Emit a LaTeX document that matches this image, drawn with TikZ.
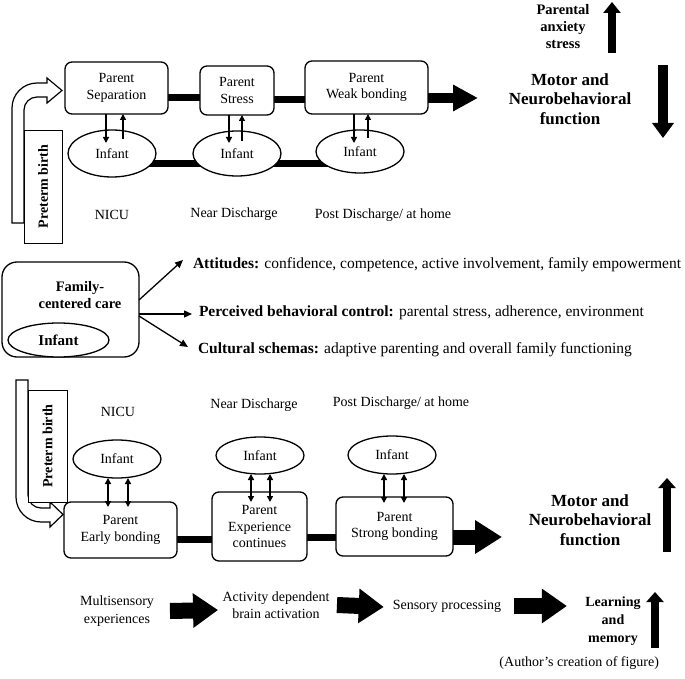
\documentclass[tikz,border=0pt]{standalone}
\usepackage{fontspec}
\setmainfont{Liberation Serif}
\usetikzlibrary{arrows.meta,shapes.geometric}
\pgfdeclarelayer{bg}
\pgfsetlayers{bg,main}
\begin{document}
\begin{tikzpicture}[x=1pt,y=-1pt,
 every node/.style={inner sep=0pt,outer sep=0pt},
 f14/.style={font=\fontsize{14}{16.5}\selectfont},
 pbox/.style={draw,line width=1.3pt,rounded corners=7pt,fill=white,align=center,f14},
 inf/.style={draw,ellipse,line width=1.3pt,fill=white,minimum width=88pt,f14},
 lbl/.style={f14,align=center},
 link/.style={line width=7pt},
 pi/.style={line width=1.2pt,-{Triangle[length=6pt,width=6pt]}},
 pib/.style={line width=1.4pt,{Triangle[length=6pt,width=6pt]}-{Triangle[length=6pt,width=6pt]}},
 sarr/.style={line width=1.3pt,-{Triangle[length=8pt,width=7pt]}},
 pbirth/.style={draw,line width=0.8pt,fill=white,rotate=90,font=\bfseries\fontsize{14}{16}\selectfont},
 hollow/.style={draw,line width=1.2pt,fill=white},
 motor/.style={font=\bfseries\fontsize{17}{19.5}\selectfont,align=center},
 bl/.style={font=\bfseries\fontsize{14.5}{17}\selectfont,align=center},
 midtxt/.style={anchor=west,font=\fontsize{15.5}{18}\selectfont},
 fatb/.style={line width=16pt,-{Triangle[length=25pt,width=33pt]}},
 vup/.style={line width=8pt,-{Triangle[length=10pt,width=17pt]}},
]
\useasboundingbox (0,0) rectangle (685,679);

% ---------- top section ----------
\draw[hollow] (24,223) -- (12,223) -- (12,108) .. controls (12,94.2) and (23.2,83) .. (37,83) -- (47,83) -- (47,78) -- (62,90.5) -- (47,103) -- (47,97) -- (37,97) .. controls (29.8,97) and (24,102.8) .. (24,110) -- cycle;
\node[pbirth,minimum width=113pt,minimum height=38pt] (pb1) at (43,186.5) {Preterm birth};

\node[pbox,minimum width=103pt,minimum height=52pt] (sep) at (116.5,88) {Parent\\Separation};
\node[pbox,minimum width=74pt,minimum height=49pt] (str) at (237,90.5) {Parent\\Stress};
\node[pbox,minimum width=123pt,minimum height=53pt] (wb) at (366.5,87.5) {Parent\\Weak bonding};
\node[inf,minimum height=47pt] (i1) at (112,153.5) {Infant};
\node[inf,minimum height=45pt] (i2) at (237,153.5) {Infant};
\node[inf,minimum height=43pt] (i3) at (360,151.5) {Infant};
\begin{pgfonlayer}{bg}
\draw[link] (sep |- 0,98) -- (str |- 0,98);
\draw[link] (str |- 0,100) -- (wb |- 0,100);
\draw[link] (i1 |- 0,163.5) -- (i2 |- 0,163.5);
\draw[link] (i2 |- 0,164) -- (i3 |- 0,164);
\end{pgfonlayer}
\draw[pi,shorten >=-13pt] (sep.south -| 106,0) -- (i1.north -| 106,0);
\draw[pi,shorten <=-9pt] (i1.north -| 123,0) -- (sep.south -| 123,0);
\draw[pi,shorten >=-12pt] (str.south -| 229,0) -- (i2.north -| 229,0);
\draw[pi,shorten <=-10pt] (i2.north -| 242,0) -- (str.south -| 242,0);
\draw[pi,shorten >=-13pt] (wb.south -| 354,0) -- (i3.north -| 354,0);
\draw[pi,shorten <=-8pt] (i3.north -| 368,0) -- (wb.south -| 368,0);

\node[lbl] (n1) at (112,215) {NICU};
\node[lbl] (n2) at (234,214) {Near Discharge};
\node[lbl] (n3) at (383,215) {Post Discharge/ at home};

\coordinate (t1) at (478,98);
\draw[line width=10pt,-{Triangle[length=25pt,width=25pt]}] (wb.east |- 0,98) -- (t1);
\node[motor] (mt1) at (570,99) {Motor and\\Neurobehavioral\\function};
\node[bl] (pa) at (563,27) {Parental\\anxiety\\stress};
\coordinate (ua1) at (612,53); \coordinate (ua1t) at (612,2);
\draw[line width=8pt,-{Triangle[length=11pt,width=17pt]}] (ua1) -- (ua1t);
\coordinate (da1) at (663,65); \coordinate (da1t) at (663,138);
\draw[line width=10pt,-{Triangle[length=15pt,width=21pt]}] (da1) -- (da1t);

% ---------- middle section ----------
\node[draw,line width=1.3pt,rounded corners=15pt,minimum width=137pt,minimum height=95pt] (fcc) at (70.5,309.5) {};
\node[font=\bfseries\fontsize{14.5}{17.5}\selectfont,align=center] (fcct) at (80,295) {Family-\\centered care};
\node[draw,ellipse,fill=white,line width=1.3pt,minimum width=101pt,minimum height=34pt,font=\bfseries\fontsize{15}{17}\selectfont] (fi) at (58.5,340) {Infant};

\node[midtxt] (att) at (193,265) {\textbf{Attitudes:} confidence, competence, active involvement, family empowerment};
\node[midtxt] (perc) at (199,313) {\textbf{Perceived behavioral control:} parental stress, adherence, environment};
\node[midtxt] (cult) at (198,350) {\textbf{Cultural schemas:} adaptive parenting and overall family functioning};
\draw[sarr] (fcc.east |- 0,300) -- ([xshift=-10pt,yshift=5pt]att.west);
\draw[sarr] (fcc.east |- 0,314) -- ([xshift=-7pt,yshift=-1pt]perc.west);
\draw[sarr] (fcc.east |- 0,316) -- ([xshift=-10pt,yshift=3pt]cult.west);

% ---------- bottom section ----------
\draw[hollow] (16,380) -- (28,380) -- (28,495) .. controls (28,502.2) and (33.8,508) .. (41,508) -- (50,508) -- (50,502) -- (63,514.5) -- (50,527) -- (50,522) -- (41,522) .. controls (27.2,522) and (16,510.8) .. (16,497) -- cycle;
\node[pbirth,minimum width=112pt,minimum height=39pt] (pb2) at (47.5,446) {Preterm birth};

\node[lbl] (m1) at (118,412) {NICU};
\node[lbl] (m2) at (254,405) {Near Discharge};
\node[lbl] (m3) at (401,403) {Post Discharge/ at home};

\node[inf,minimum height=38pt] (j1) at (117,459) {Infant};
\node[inf,minimum height=37pt] (j2) at (260,455.5) {Infant};
\node[inf,minimum height=38pt] (j3) at (392,455) {Infant};
\node[pbox,minimum width=113pt,minimum height=56pt] (b1) at (120.5,530) {Parent\\Early bonding};
\node[pbox,minimum width=95pt,minimum height=69pt] (b2) at (259.5,526.5) {Parent\\Experience\\continues};
\node[pbox,minimum width=117pt,minimum height=59pt] (b3) at (394.5,526.5) {Parent\\Strong bonding};
\begin{pgfonlayer}{bg}
\draw[link] (b1 |- 0,539) -- (b2 |- 0,539);
\draw[link] (b2 |- 0,537) -- (b3 |- 0,537);
\end{pgfonlayer}
\draw[pib,shorten >=-5pt] (j1.south -| 108,0) -- (b1.north -| 108,0);
\draw[pib,shorten >=-5pt] (j1.south -| 128,0) -- (b1.north -| 128,0);
\draw[pib,shorten >=-10pt] (j2.south -| 251,0) -- (b2.north -| 251,0);
\draw[pib,shorten >=-10pt] (j2.south -| 270,0) -- (b2.north -| 270,0);
\draw[pib,shorten >=-6pt] (j3.south -| 384,0) -- (b3.north -| 384,0);
\draw[pib,shorten >=-6pt] (j3.south -| 404,0) -- (b3.north -| 404,0);

\coordinate (t2) at (502,537);
\draw[line width=15pt,-{Triangle[length=27pt,width=32pt]}] (b3.east |- 0,537) -- (t2);
\node[motor] (mt2) at (590,520) {Motor and\\Neurobehavioral\\function};
\coordinate (ua2) at (667,552); \coordinate (ua2t) at (667,478);
\draw[vup] (ua2) -- (ua2t);

% ---------- process row ----------
\node[font=\fontsize{14}{18}\selectfont,align=center] (ms) at (117,611) {Multisensory\\experiences};
\node[font=\fontsize{14}{17}\selectfont,align=center] (ad) at (276,605) {Activity dependent\\brain activation};
\node[lbl] (sp) at (447,606) {Sensory processing};
\node[font=\bfseries\fontsize{14}{18}\selectfont,align=center] (lm) at (613,621) {Learning\\and\\memory};
\draw[fatb] (ms.east) ++(16,0) -- ([xshift=-4.5pt,yshift=-5pt]ad.west);
\draw[fatb] (ad.east) ++(7.5,0) -- ([xshift=-9pt,yshift=-1pt]sp.west);
\draw[fatb] (sp.east) ++(13,0) -- ([xshift=-18.5pt,yshift=15pt]lm.west);
\coordinate (ua3) at (655,648); \coordinate (ua3t) at (655,592);
\draw[vup] (ua3) -- (ua3t);
\node[lbl,anchor=east] (au) at (659,663) {(Author's creation of figure)};
\end{tikzpicture}
\end{document}
